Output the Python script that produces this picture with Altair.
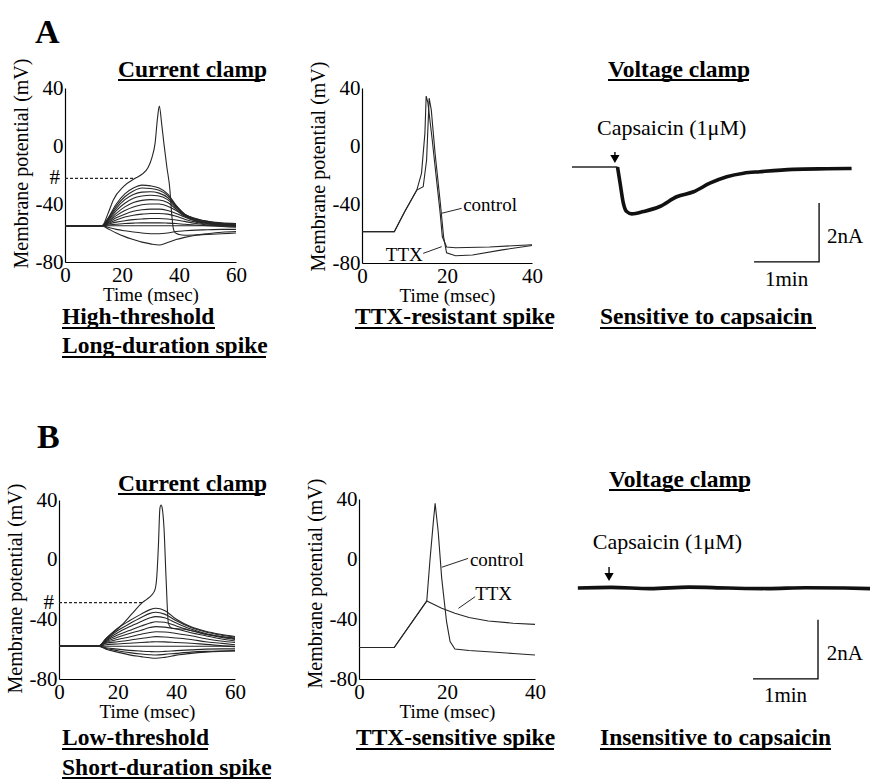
import altair as alt
import pandas as pd

W, H = 870, 779
SERIF = "Liberation Serif"
INK = "#262626"

# ---------------------------------------------------------------
# Neuron A, current clamp: family of responses to current steps
# ---------------------------------------------------------------
A_CC_T = [0, 13, 15, 18, 21, 24, 27, 30, 33, 36, 39, 42, 46, 50, 55, 60]
A_CC_SUB = [
    [-55, -55, -50, -40, -33, -29, -27, -27.5, -29, -33, -41, -47, -50, -52, -53, -53.5],
    [-55, -55, -50.5, -41.5, -35, -31, -29, -29.3, -30.5, -34, -41.5, -47, -50.5, -52, -53.5, -54],
    [-55, -55, -51, -43, -37, -33.5, -31.8, -31.5, -32.5, -35.5, -42, -47.5, -50.5, -52.5, -53.5, -54],
    [-55, -55, -51.5, -44.5, -39.5, -36, -34.5, -34, -34.5, -37, -42.5, -47.5, -51, -52.5, -53.5, -54.5],
    [-55, -55, -52, -46.5, -42, -39, -37.5, -37, -37.2, -39, -43.5, -48, -51, -53, -54, -54.5],
    [-55, -55, -52.5, -48, -44.5, -42, -40.5, -40, -40, -41.5, -44.5, -48.5, -51.5, -53, -54, -55],
    [-55, -55, -53, -49.5, -47, -45, -44, -43.5, -43.5, -44.5, -46.5, -49, -52, -53.5, -54.5, -55],
    [-55, -55, -53.5, -51, -49, -47.8, -47, -46.5, -46.5, -47, -48.5, -50.5, -52.5, -54, -54.5, -55],
    [-55, -55, -54, -52.5, -51.5, -50.8, -50.3, -50, -50, -50.3, -51, -52, -53.5, -54.5, -55, -55.5],
    [-55, -55, -54.5, -54, -53.5, -53.2, -53, -53, -53, -53.2, -53.5, -54, -54.5, -55, -55.5, -56],
    [-55, -55, -55, -55, -55, -55, -55, -55, -55, -55, -55, -55, -55, -55, -55, -55],
    [-55, -55, -56, -57.5, -58.5, -59.3, -60, -60.5, -60.5, -60, -59, -58.5, -58, -57.8, -57.5, -57.5],
    [-55, -55, -57, -60, -62.5, -64.5, -66.3, -67.5, -68.3, -66.5, -64.5, -63, -61.5, -60.5, -59.5, -59],
]
A_CC_SPIKE_T = [0, 13, 15, 17, 20.5, 24.6, 27, 29.2, 30.5, 31.6, 32.5, 33.1, 33.9, 34.7,
                35.7, 36.8, 37.4, 38, 38.6, 40, 42, 46, 50, 55, 60]
A_CC_SPIKE_V = [-55, -55, -47, -37, -28, -22.3, -19.5, -14.7, -8, 1.8, 20, 27.6, 15.6, 1.8,
                -14, -30, -46, -56.8, -59.8, -61, -61.5, -61.3, -61, -60.5, -60]
A_THRESHOLD_T = [0, 24.6]
A_THRESHOLD_V = [-22.3, -22.3]

# Neuron A, TTX-resistant spike (control vs TTX)
A_CTRL_T = [0, 7.6, 10, 12.9, 14, 14.8, 15.1, 15.5, 16.5, 17.2, 18.4, 18.9, 19.9, 22, 30, 40]
A_CTRL_V = [-58.5, -58.5, -45, -30, -18.5, 8.9, 34.5, 30, 5, -14, -46, -62, -69, -69.5, -69, -67.5]
A_TTX_T = [0, 7.6, 10, 12.9, 14.4, 15.2, 15.8, 16.3, 17.2, 18.4, 19.2, 19.9, 22, 26, 33, 40]
A_TTX_V = [-58.5, -58.5, -45, -30, -27.7, -9.4, 33, 25, -5, -38, -62, -73, -75, -74.5, -71, -68]

# Neuron A, voltage clamp: inward current evoked by capsaicin (minutes, nA)
A_VC_PRE_T = [0, 0.70]
A_VC_PRE_I = [0, 0]
A_VC_T = [0.70, 0.74, 0.79, 0.84, 0.92, 1.10, 1.35, 1.61, 1.87, 2.12, 2.38, 2.64, 2.89, 3.40, 3.92, 4.30]
A_VC_I = [0, -0.55, -1.23, -1.51, -1.59, -1.51, -1.34, -1.01, -0.84, -0.55, -0.33, -0.21, -0.16,
          -0.08, -0.06, -0.05]
A_CAPSAICIN_AT = 0.66

# ---------------------------------------------------------------
# Neuron B, current clamp
# ---------------------------------------------------------------
B_CC_T = [0, 13.5, 16, 20, 24, 28, 31, 33, 36, 40, 45, 50, 55, 60]
B_CC_SUB = [
    [-58, -58, -53, -46, -41, -36.5, -33.5, -32.6, -34, -40, -45, -48, -50, -51.5],
    [-58, -58, -53.5, -47.5, -43, -38.8, -36, -35.3, -36.5, -41, -45.5, -48.5, -50.5, -52],
    [-58, -58, -54, -49, -45, -41.5, -39, -38.2, -39, -42.5, -46.5, -49.5, -51.5, -53],
    [-58, -58, -54.5, -50.5, -47.5, -44.5, -42.5, -41.6, -42, -44.5, -47.5, -50, -52, -53.5],
    [-58, -58, -55, -52, -49.5, -47.3, -45.5, -44.9, -45.2, -46.5, -49, -51, -53, -54.5],
    [-58, -58, -55.5, -53.5, -51.8, -50, -48.8, -48.3, -48.5, -49.5, -51, -53, -54.5, -55.5],
    [-58, -58, -56, -55, -54, -52.8, -52, -51.6, -51.8, -52.5, -53.5, -55, -56, -57],
    [-58, -58, -57, -56.5, -56, -55.5, -55.2, -55, -55.1, -55.5, -56, -56.8, -57.5, -58],
    [-58, -58, -58, -58, -58, -58, -58, -58, -58, -58, -58, -58, -58, -58.3],
    [-58, -58, -59, -60, -60.8, -61.3, -61.6, -61.7, -61.5, -61, -60.5, -60, -59.8, -59.8],
    [-58, -58, -59.5, -61, -62.3, -63.2, -63.7, -63.9, -63.5, -62.8, -62, -61.5, -61.2, -61],
    [-58, -58, -60, -62, -63.8, -65, -65.8, -66.1, -65.5, -64, -62.8, -62, -61.5, -61.2],
]
B_CC_SPIKE_T = [0, 13.5, 16, 21.4, 25, 28.4, 30, 31.6, 32.7, 33.3, 33.9, 34.4, 34.8, 35.2,
                35.8, 36.5, 37.3, 38.5, 42, 46, 50, 55, 60]
B_CC_SPIKE_V = [-58, -58, -53, -43.8, -36, -28.8, -26.5, -23.7, -20.3, -12.5, 9.8, 34.4, 36.6, 34.4,
                21, -12.5, -42.7, -46, -46.5, -48, -50, -51.5, -52.5]
B_THRESHOLD_T = [0, 28.4]
B_THRESHOLD_V = [-28.8, -28.8]

# Neuron B, TTX-sensitive spike
B_CTRL_T = [0, 8, 15.4, 16.1, 16.9, 17.3, 18, 18.8, 19.9, 20.7, 21.8, 25, 29.4, 35, 40]
B_CTRL_V = [-59, -59, -28, -1.8, 24.9, 37.1, 18.2, -12.9, -41.8, -55, -60, -61, -61.8, -63, -64]
B_TTX_T = [0, 8, 15.4, 18.8, 21.8, 25, 29.4, 35, 40]
B_TTX_V = [-59, -59, -28, -32.9, -36.2, -39, -41.3, -42.8, -43.6]

# Neuron B, voltage clamp: no response to capsaicin
B_VC_T = [0.09, 0.6, 1.2, 1.8, 2.4, 3.0, 3.6, 4.2, 4.585]
B_VC_I = [0, 0.02, -0.02, 0.03, 0, -0.02, 0.01, 0, -0.02]
B_CAPSAICIN_AT = 0.57

# calibration bar
BAR_MIN = 1.0
BAR_NA = 2.0

# ---------------------------------------------------------------
# layout: pixel ranges of each panel's scales
# ---------------------------------------------------------------
GEOM = {
    "A_cc": dict(x=(65, 236), y=(262, 88), title_y=163),
    "A_ttx": dict(x=(362, 532), y=(263, 88), title_y=166),
    "A_vc": dict(x=(572, 862), y=(290, 100), xdom=(0, 4.46), ydom=(-4.17, 2.27)),
    "B_cc": dict(x=(59, 235), y=(679, 500), title_y=588),
    "B_ttx": dict(x=(359, 535), y=(679, 499), title_y=583),
    "B_vc": dict(x=(572, 870), y=(710, 520), xdom=(0, 4.585), ydom=(-4.135, 2.305)),
}

AXIS_STYLE = dict(
    domainColor="black", domainWidth=1.2, ticks=False, grid=False,
    labelFont=SERIF, labelFontSize=21, labelColor="black", labelFlush=False,
    titleFont=SERIF, titleColor="black", titleFontWeight="normal",
    labelExpr="'' + datum.value",
)


def mp_enc(key, xmax, xticks):
    g = GEOM[key]
    x0, x1 = g["x"]
    yb, yt = g["y"]
    x = alt.X("t:Q",
              scale=alt.Scale(domain=[0, xmax], range=[x0, x1], nice=False, zero=False),
              axis=alt.Axis(orient="bottom", offset=yb - H, values=xticks, title="Time (msec)",
                            titleFontSize=19, labelPadding=2, titlePadding=0, **AXIS_STYLE))
    y = alt.Y("v:Q",
              scale=alt.Scale(domain=[-80, 40], range=[yb, yt], nice=False, zero=False),
              axis=alt.Axis(orient="left", offset=-x0, values=[-80, -40, 0, 40],
                            title="Membrane potential (mV)", titleFontSize=20, titleY=g["title_y"],
                            labelPadding=2, titlePadding=4, **AXIS_STYLE))
    return x, y


def vc_enc(key):
    g = GEOM[key]
    x = alt.X("t:Q", scale=alt.Scale(domain=list(g["xdom"]), range=list(g["x"]), nice=False, zero=False),
              axis=None)
    y = alt.Y("i:Q", scale=alt.Scale(domain=list(g["ydom"]), range=list(g["y"]), nice=False, zero=False),
              axis=None)
    return x, y


def family_frame(t, family, spike_t, spike_v):
    rows = []
    for k, vals in enumerate(family):
        rows += [{"t": a, "v": b, "trace": f"s{k}"} for a, b in zip(t, vals)]
    rows += [{"t": a, "v": b, "trace": "spike"} for a, b in zip(spike_t, spike_v)]
    return pd.DataFrame(rows)


def current_clamp_panel(key, t, family, spike_t, spike_v, thr_t, thr_v):
    x, y = mp_enc(key, 60, [0, 20, 40, 60])
    traces = alt.Chart(family_frame(t, family, spike_t, spike_v)).mark_line(
        interpolate="monotone", strokeWidth=1.1, color=INK
    ).encode(x=x, y=y, detail="trace:N")
    thr = alt.Chart(pd.DataFrame({"t": thr_t, "v": thr_v})).mark_line(
        strokeDash=[3, 2], strokeWidth=1.1, color=INK
    ).encode(x=x, y=y)
    hash_mark = alt.Chart(pd.DataFrame({"v": thr_v[:1]})).mark_text(
        text="#", font=SERIF, fontSize=21, align="right", baseline="middle", color="black"
    ).encode(x=alt.value(GEOM[key]["x"][0] - 5), y=y)
    return alt.layer(traces, thr, hash_mark)


def ttx_panel(key, ct, cv, tt, tv, ctrl_lab, ttx_lab):
    x, y = mp_enc(key, 40, [0, 20, 40])
    df = pd.concat([
        pd.DataFrame({"t": ct, "v": cv, "trace": "control"}),
        pd.DataFrame({"t": tt, "v": tv, "trace": "TTX"}),
    ])
    lines = alt.Chart(df).mark_line(strokeWidth=1.1, color=INK).encode(x=x, y=y, detail="trace:N")
    layers = [lines]
    for name, (tx, vy, align, p0, p1) in (("control", ctrl_lab), ("TTX", ttx_lab)):
        layers.append(alt.Chart(pd.DataFrame({"t": [tx], "v": [vy]})).mark_text(
            text=name, font=SERIF, fontSize=19, align=align, baseline="middle", color="black"
        ).encode(x=x, y=y))
        layers.append(alt.Chart(pd.DataFrame({"t": [p0[0], p1[0]], "v": [p0[1], p1[1]]})).mark_line(
            strokeWidth=1, color=INK
        ).encode(x=x, y=y))
    return alt.layer(*layers)


def voltage_clamp_panel(key, pre_t, pre_i, t, i, onset, text_at, bar_corner, label_at):
    x, y = vc_enc(key)
    layers = []
    if pre_t:
        layers.append(alt.Chart(pd.DataFrame({"t": pre_t, "i": pre_i})).mark_line(
            strokeWidth=1.6, color=INK).encode(x=x, y=y))
    layers.append(alt.Chart(pd.DataFrame({"t": t, "i": i})).mark_line(
        strokeWidth=3.6, color="#111111", interpolate="monotone").encode(x=x, y=y))
    # capsaicin arrow
    a_top, a_tip = onset[1], onset[2]
    layers.append(alt.Chart(pd.DataFrame({"t": [onset[0]], "i": [a_top], "i2": [a_tip + 0.2]})).mark_rule(
        strokeWidth=1.4, color="black").encode(x=x, y=y, y2="i2"))
    layers.append(alt.Chart(pd.DataFrame({"t": [onset[0]], "i": [a_tip + 0.13]})).mark_point(
        shape="triangle-down", filled=True, size=85, color="black", opacity=1).encode(x=x, y=y))
    layers.append(alt.Chart(pd.DataFrame({"t": [text_at[0]], "i": [text_at[1]]})).mark_text(
        text="Capsaicin (1\u03bcM)", font=SERIF, fontSize=22, align="left", baseline="middle",
        color="black").encode(x=x, y=y))
    # calibration bar: 2 nA vertical, 1 min horizontal
    cx, cy = bar_corner
    bar = pd.DataFrame({"t": [cx, cx, cx - BAR_MIN], "i": [cy + BAR_NA, cy, cy], "k": [0, 1, 2]})
    layers.append(alt.Chart(bar).mark_line(strokeWidth=1.3, color="black").encode(x=x, y=y, order="k:O"))
    layers.append(alt.Chart(pd.DataFrame({"t": [label_at[0]], "i": [label_at[1]]})).mark_text(
        text="2nA", font=SERIF, fontSize=21, align="left", baseline="middle", color="black"
    ).encode(x=x, y=y))
    layers.append(alt.Chart(pd.DataFrame({"t": [cx - BAR_MIN / 2], "i": [label_at[2]]})).mark_text(
        text="1min", font=SERIF, fontSize=21, align="center", baseline="middle", color="black"
    ).encode(x=x, y=y))
    return alt.layer(*layers)


panels = [
    current_clamp_panel("A_cc", A_CC_T, A_CC_SUB, A_CC_SPIKE_T, A_CC_SPIKE_V, A_THRESHOLD_T, A_THRESHOLD_V),
    ttx_panel("A_ttx", A_CTRL_T, A_CTRL_V, A_TTX_T, A_TTX_V,
              (23.8, -40.2, "left", (18.75, -45.9), (23.45, -42.5)),
              (14.3, -74.5, "right", (14.4, -73.4), (18.75, -68.8))),
    voltage_clamp_panel("A_vc", A_VC_PRE_T, A_VC_PRE_I, A_VC_T, A_VC_I,
                        (A_CAPSAICIN_AT, 0.51, 0.14), (0.385, 1.32), (3.8, -3.22), (3.92, -2.37, -3.83)),
    current_clamp_panel("B_cc", B_CC_T, B_CC_SUB, B_CC_SPIKE_T, B_CC_SPIKE_V, B_THRESHOLD_T, B_THRESHOLD_V),
    ttx_panel("B_ttx", B_CTRL_T, B_CTRL_V, B_TTX_T, B_TTX_V,
              (25.2, -0.7, "left", (18.8, -5.5), (24.8, 0.4)),
              (26.4, -23.3, "left", (22.6, -32.9), (26.4, -25.1))),
    voltage_clamp_panel("B_vc", [], [], B_VC_T, B_VC_I,
                        (B_CAPSAICIN_AT, 0.71, 0.24), (0.32, 1.56), (3.785, -3.08), (3.92, -2.24, -3.66)),
]

# headings: text, left x, baseline y, size
HEADINGS = [
    ("A", 35, 43, 34), ("B", 37, 448, 34),
    ("Current clamp", 118, 77, 23.5), ("Voltage clamp", 608, 77, 23.5),
    ("High-threshold", 62, 324, 23.5), ("Long-duration spike", 62, 353, 23.5),
    ("TTX-resistant spike", 355, 324, 23.5), ("Sensitive to capsaicin", 600, 324, 23.5),
    ("Current clamp", 118, 491, 23.5), ("Voltage clamp", 609, 487, 23.5),
    ("Low-threshold", 62, 745, 23.5), ("Short-duration spike", 62, 775, 23.5),
    ("TTX-sensitive spike", 356, 745, 23.5), ("Insensitive to capsaicin", 600, 745, 23.5),
]
# underlines: x from, x to, y
UNDERLINES = [
    (118, 265, 80), (608, 749, 80),
    (62, 215, 328), (62, 266, 357), (355, 553, 328), (600, 816, 328),
    (118, 265, 494), (609, 750, 490),
    (62, 208, 749), (62, 271, 778), (356, 554, 749), (600, 831, 749),
]

one = alt.Data(values=[{}])
decor = []
for txt, lx, by, size in HEADINGS:
    decor.append(alt.Chart(one).mark_text(
        text=txt, font=SERIF, fontSize=size, fontWeight="bold", align="left",
        baseline="alphabetic", color="black"
    ).encode(x=alt.value(lx), y=alt.value(by)))
for x0, x1, yy in UNDERLINES:
    decor.append(alt.Chart(one).mark_rule(strokeWidth=2, color="black").encode(
        x=alt.value(x0), x2=alt.value(x1), y=alt.value(yy)))

chart = alt.layer(*panels, *decor).resolve_scale(
    x="independent", y="independent"
).properties(
    width=W, height=H, padding=0, background="white",
    autosize=alt.AutoSizeParams(type="none"),
).configure_view(strokeWidth=0)

chart.save("out.html", embed_options={"renderer": "svg", "actions": False})
